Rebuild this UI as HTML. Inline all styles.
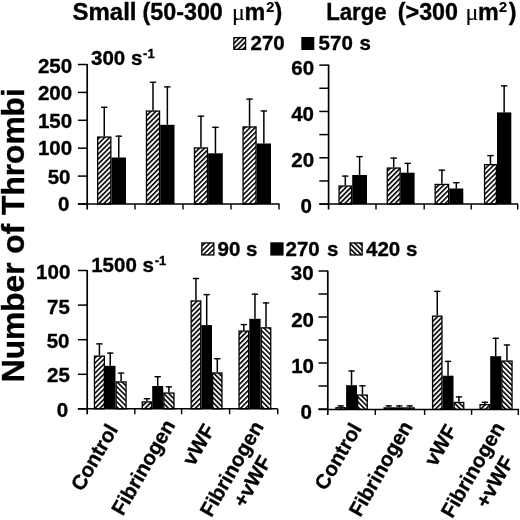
<!DOCTYPE html>
<html><head><meta charset="utf-8"><style>
html,body{margin:0;padding:0;background:#fff;width:520px;height:520px;overflow:hidden}
svg{display:block}
text{font-family:"Liberation Sans", sans-serif;font-weight:bold;fill:#000;stroke:#000;stroke-width:0.35px}
svg{will-change:transform}
</style></head><body>
<svg width="520" height="520" viewBox="0 0 520 520">
<defs>
<pattern id="fw" patternUnits="userSpaceOnUse" width="3.55" height="10" patternTransform="rotate(45)">
<rect x="0" y="0" width="1.6" height="10" fill="#000"/></pattern>
<pattern id="bk" patternUnits="userSpaceOnUse" width="3.55" height="10" patternTransform="rotate(-45)">
<rect x="0" y="0" width="1.6" height="10" fill="#000"/></pattern>
</defs>
<rect width="520" height="520" fill="#fff"/>

<line x1="87.2" y1="64.0" x2="87.2" y2="209.5" stroke="#000" stroke-width="1.7"/>
<line x1="77.9" y1="204.0" x2="279.5" y2="204.0" stroke="#000" stroke-width="1.5"/>
<line x1="77.9" y1="64.50" x2="87.2" y2="64.50" stroke="#000" stroke-width="1.5"/>
<line x1="77.9" y1="92.40" x2="87.2" y2="92.40" stroke="#000" stroke-width="1.5"/>
<line x1="77.9" y1="120.30" x2="87.2" y2="120.30" stroke="#000" stroke-width="1.5"/>
<line x1="77.9" y1="148.20" x2="87.2" y2="148.20" stroke="#000" stroke-width="1.5"/>
<line x1="77.9" y1="176.10" x2="87.2" y2="176.10" stroke="#000" stroke-width="1.5"/>
<line x1="77.9" y1="204.00" x2="87.2" y2="204.00" stroke="#000" stroke-width="1.5"/>
<text x="72.20" y="73.10" font-size="20.5" text-anchor="end">250</text>
<text x="72.20" y="100.20" font-size="20.5" text-anchor="end">200</text>
<text x="72.20" y="127.70" font-size="20.5" text-anchor="end">150</text>
<text x="72.20" y="155.20" font-size="20.5" text-anchor="end">100</text>
<text x="70.50" y="183.60" font-size="20.5" text-anchor="end">50</text>
<text x="69.50" y="210.80" font-size="20.5" text-anchor="end">0</text>
<line x1="135.00" y1="204.0" x2="135.00" y2="209.5" stroke="#000" stroke-width="1.4"/>
<line x1="183.00" y1="204.0" x2="183.00" y2="209.5" stroke="#000" stroke-width="1.4"/>
<line x1="231.00" y1="204.0" x2="231.00" y2="209.5" stroke="#000" stroke-width="1.4"/>
<line x1="279.00" y1="204.0" x2="279.00" y2="209.5" stroke="#000" stroke-width="1.4"/>
<rect x="97.65" y="137.05" width="13.20" height="66.95" fill="url(#fw)" stroke="#000" stroke-width="1.3"/>
<rect x="111.50" y="157.50" width="14.50" height="46.50" fill="#000"/>
<line x1="104.25" y1="136.40" x2="104.25" y2="106.70" stroke="#000" stroke-width="1.5"/>
<line x1="101.05" y1="107.30" x2="107.45" y2="107.30" stroke="#000" stroke-width="1.4"/>
<line x1="118.75" y1="157.50" x2="118.75" y2="135.60" stroke="#000" stroke-width="1.5"/>
<line x1="115.55" y1="136.20" x2="121.95" y2="136.20" stroke="#000" stroke-width="1.4"/>
<rect x="146.45" y="111.05" width="13.10" height="92.95" fill="url(#fw)" stroke="#000" stroke-width="1.3"/>
<rect x="160.20" y="124.80" width="14.30" height="79.20" fill="#000"/>
<line x1="153.00" y1="110.40" x2="153.00" y2="81.70" stroke="#000" stroke-width="1.5"/>
<line x1="149.80" y1="82.30" x2="156.20" y2="82.30" stroke="#000" stroke-width="1.4"/>
<line x1="167.35" y1="124.80" x2="167.35" y2="86.30" stroke="#000" stroke-width="1.5"/>
<line x1="164.15" y1="86.90" x2="170.55" y2="86.90" stroke="#000" stroke-width="1.4"/>
<rect x="194.45" y="147.95" width="13.00" height="56.05" fill="url(#fw)" stroke="#000" stroke-width="1.3"/>
<rect x="208.10" y="153.30" width="14.70" height="50.70" fill="#000"/>
<line x1="200.95" y1="147.30" x2="200.95" y2="115.60" stroke="#000" stroke-width="1.5"/>
<line x1="197.75" y1="116.20" x2="204.15" y2="116.20" stroke="#000" stroke-width="1.4"/>
<line x1="215.45" y1="153.30" x2="215.45" y2="126.70" stroke="#000" stroke-width="1.5"/>
<line x1="212.25" y1="127.30" x2="218.65" y2="127.30" stroke="#000" stroke-width="1.4"/>
<rect x="243.05" y="126.95" width="13.00" height="77.05" fill="url(#fw)" stroke="#000" stroke-width="1.3"/>
<rect x="256.70" y="143.50" width="14.30" height="60.50" fill="#000"/>
<line x1="249.55" y1="126.30" x2="249.55" y2="98.50" stroke="#000" stroke-width="1.5"/>
<line x1="246.35" y1="99.10" x2="252.75" y2="99.10" stroke="#000" stroke-width="1.4"/>
<line x1="263.85" y1="143.50" x2="263.85" y2="110.40" stroke="#000" stroke-width="1.5"/>
<line x1="260.65" y1="111.00" x2="267.05" y2="111.00" stroke="#000" stroke-width="1.4"/>
<line x1="328.6" y1="64.6" x2="328.6" y2="209.5" stroke="#000" stroke-width="1.7"/>
<line x1="319.3" y1="204.0" x2="518.0" y2="204.0" stroke="#000" stroke-width="1.5"/>
<line x1="319.3" y1="65.10" x2="328.6" y2="65.10" stroke="#000" stroke-width="1.5"/>
<line x1="319.3" y1="88.27" x2="328.6" y2="88.27" stroke="#000" stroke-width="1.5"/>
<line x1="319.3" y1="111.44" x2="328.6" y2="111.44" stroke="#000" stroke-width="1.5"/>
<line x1="319.3" y1="134.61" x2="328.6" y2="134.61" stroke="#000" stroke-width="1.5"/>
<line x1="319.3" y1="157.78" x2="328.6" y2="157.78" stroke="#000" stroke-width="1.5"/>
<line x1="319.3" y1="180.95" x2="328.6" y2="180.95" stroke="#000" stroke-width="1.5"/>
<line x1="319.3" y1="204.12" x2="328.6" y2="204.12" stroke="#000" stroke-width="1.5"/>
<text x="314.10" y="74.50" font-size="20.5" text-anchor="end">60</text>
<text x="314.00" y="121.30" font-size="20.5" text-anchor="end">40</text>
<text x="314.10" y="167.10" font-size="20.5" text-anchor="end">20</text>
<text x="312.00" y="213.30" font-size="20.5" text-anchor="end">0</text>
<line x1="376.00" y1="204.0" x2="376.00" y2="209.5" stroke="#000" stroke-width="1.4"/>
<line x1="424.20" y1="204.0" x2="424.20" y2="209.5" stroke="#000" stroke-width="1.4"/>
<line x1="471.20" y1="204.0" x2="471.20" y2="209.5" stroke="#000" stroke-width="1.4"/>
<line x1="517.70" y1="204.0" x2="517.70" y2="209.5" stroke="#000" stroke-width="1.4"/>
<rect x="339.05" y="186.05" width="12.50" height="17.95" fill="url(#fw)" stroke="#000" stroke-width="1.3"/>
<rect x="352.20" y="175.00" width="14.80" height="29.00" fill="#000"/>
<line x1="345.30" y1="185.40" x2="345.30" y2="175.50" stroke="#000" stroke-width="1.5"/>
<line x1="342.10" y1="176.10" x2="348.50" y2="176.10" stroke="#000" stroke-width="1.4"/>
<line x1="359.60" y1="175.00" x2="359.60" y2="156.00" stroke="#000" stroke-width="1.5"/>
<line x1="356.40" y1="156.60" x2="362.80" y2="156.60" stroke="#000" stroke-width="1.4"/>
<rect x="387.25" y="168.05" width="12.90" height="35.95" fill="url(#fw)" stroke="#000" stroke-width="1.3"/>
<rect x="400.80" y="172.70" width="13.80" height="31.30" fill="#000"/>
<line x1="393.70" y1="167.40" x2="393.70" y2="157.50" stroke="#000" stroke-width="1.5"/>
<line x1="390.50" y1="158.10" x2="396.90" y2="158.10" stroke="#000" stroke-width="1.4"/>
<line x1="407.70" y1="172.70" x2="407.70" y2="162.80" stroke="#000" stroke-width="1.5"/>
<line x1="404.50" y1="163.40" x2="410.90" y2="163.40" stroke="#000" stroke-width="1.4"/>
<rect x="435.15" y="184.45" width="13.50" height="19.55" fill="url(#fw)" stroke="#000" stroke-width="1.3"/>
<rect x="449.30" y="188.50" width="14.00" height="15.50" fill="#000"/>
<line x1="441.90" y1="183.80" x2="441.90" y2="169.60" stroke="#000" stroke-width="1.5"/>
<line x1="438.70" y1="170.20" x2="445.10" y2="170.20" stroke="#000" stroke-width="1.4"/>
<line x1="456.30" y1="188.50" x2="456.30" y2="182.10" stroke="#000" stroke-width="1.5"/>
<line x1="453.10" y1="182.70" x2="459.50" y2="182.70" stroke="#000" stroke-width="1.4"/>
<rect x="484.55" y="164.65" width="11.80" height="39.35" fill="url(#fw)" stroke="#000" stroke-width="1.3"/>
<rect x="497.00" y="112.40" width="14.30" height="91.60" fill="#000"/>
<line x1="490.45" y1="164.00" x2="490.45" y2="155.00" stroke="#000" stroke-width="1.5"/>
<line x1="487.25" y1="155.60" x2="493.65" y2="155.60" stroke="#000" stroke-width="1.4"/>
<line x1="504.15" y1="112.40" x2="504.15" y2="85.30" stroke="#000" stroke-width="1.5"/>
<line x1="500.95" y1="85.90" x2="507.35" y2="85.90" stroke="#000" stroke-width="1.4"/>
<line x1="87.2" y1="270.0" x2="87.2" y2="414.3" stroke="#000" stroke-width="1.7"/>
<line x1="77.9" y1="408.8" x2="277.7" y2="408.8" stroke="#000" stroke-width="1.5"/>
<line x1="77.9" y1="270.50" x2="87.2" y2="270.50" stroke="#000" stroke-width="1.5"/>
<line x1="77.9" y1="305.10" x2="87.2" y2="305.10" stroke="#000" stroke-width="1.5"/>
<line x1="77.9" y1="339.70" x2="87.2" y2="339.70" stroke="#000" stroke-width="1.5"/>
<line x1="77.9" y1="374.30" x2="87.2" y2="374.30" stroke="#000" stroke-width="1.5"/>
<line x1="77.9" y1="408.90" x2="87.2" y2="408.90" stroke="#000" stroke-width="1.5"/>
<text x="70.30" y="279.30" font-size="20.5" text-anchor="end">100</text>
<text x="69.90" y="313.50" font-size="20.5" text-anchor="end">75</text>
<text x="69.50" y="348.00" font-size="20.5" text-anchor="end">50</text>
<text x="69.90" y="382.40" font-size="20.5" text-anchor="end">25</text>
<text x="68.10" y="417.40" font-size="20.5" text-anchor="end">0</text>
<line x1="134.80" y1="408.8" x2="134.80" y2="414.3" stroke="#000" stroke-width="1.4"/>
<line x1="181.60" y1="408.8" x2="181.60" y2="414.3" stroke="#000" stroke-width="1.4"/>
<line x1="229.60" y1="408.8" x2="229.60" y2="414.3" stroke="#000" stroke-width="1.4"/>
<line x1="277.70" y1="408.8" x2="277.70" y2="414.3" stroke="#000" stroke-width="1.4"/>
<rect x="94.45" y="356.15" width="9.90" height="52.65" fill="url(#fw)" stroke="#000" stroke-width="1.3"/>
<rect x="105.00" y="365.80" width="10.50" height="43.00" fill="#000"/>
<rect x="116.15" y="381.95" width="9.90" height="26.85" fill="url(#bk)" stroke="#000" stroke-width="1.3"/>
<line x1="99.40" y1="355.50" x2="99.40" y2="343.30" stroke="#000" stroke-width="1.5"/>
<line x1="96.25" y1="343.90" x2="102.55" y2="343.90" stroke="#000" stroke-width="1.4"/>
<line x1="110.25" y1="365.80" x2="110.25" y2="352.50" stroke="#000" stroke-width="1.5"/>
<line x1="107.10" y1="353.10" x2="113.40" y2="353.10" stroke="#000" stroke-width="1.4"/>
<line x1="121.10" y1="381.30" x2="121.10" y2="372.50" stroke="#000" stroke-width="1.5"/>
<line x1="117.95" y1="373.10" x2="124.25" y2="373.10" stroke="#000" stroke-width="1.4"/>
<rect x="142.25" y="401.95" width="9.30" height="6.85" fill="url(#fw)" stroke="#000" stroke-width="1.3"/>
<rect x="152.20" y="386.00" width="11.00" height="22.80" fill="#000"/>
<rect x="163.85" y="393.05" width="10.10" height="15.75" fill="url(#bk)" stroke="#000" stroke-width="1.3"/>
<line x1="146.90" y1="401.30" x2="146.90" y2="398.10" stroke="#000" stroke-width="1.5"/>
<line x1="143.75" y1="398.70" x2="150.05" y2="398.70" stroke="#000" stroke-width="1.4"/>
<line x1="157.70" y1="386.00" x2="157.70" y2="376.10" stroke="#000" stroke-width="1.5"/>
<line x1="154.55" y1="376.70" x2="160.85" y2="376.70" stroke="#000" stroke-width="1.4"/>
<line x1="168.90" y1="392.40" x2="168.90" y2="386.30" stroke="#000" stroke-width="1.5"/>
<line x1="165.75" y1="386.90" x2="172.05" y2="386.90" stroke="#000" stroke-width="1.4"/>
<rect x="191.15" y="300.95" width="9.60" height="107.85" fill="url(#fw)" stroke="#000" stroke-width="1.3"/>
<rect x="201.40" y="325.10" width="10.60" height="83.70" fill="#000"/>
<rect x="212.65" y="372.95" width="9.30" height="35.85" fill="url(#bk)" stroke="#000" stroke-width="1.3"/>
<line x1="195.95" y1="300.30" x2="195.95" y2="277.90" stroke="#000" stroke-width="1.5"/>
<line x1="192.80" y1="278.50" x2="199.10" y2="278.50" stroke="#000" stroke-width="1.4"/>
<line x1="206.70" y1="325.10" x2="206.70" y2="294.00" stroke="#000" stroke-width="1.5"/>
<line x1="203.55" y1="294.60" x2="209.85" y2="294.60" stroke="#000" stroke-width="1.4"/>
<line x1="217.30" y1="372.30" x2="217.30" y2="358.10" stroke="#000" stroke-width="1.5"/>
<line x1="214.15" y1="358.70" x2="220.45" y2="358.70" stroke="#000" stroke-width="1.4"/>
<rect x="239.05" y="331.05" width="9.60" height="77.75" fill="url(#fw)" stroke="#000" stroke-width="1.3"/>
<rect x="249.30" y="318.80" width="11.30" height="90.00" fill="#000"/>
<rect x="261.25" y="327.85" width="9.50" height="80.95" fill="url(#bk)" stroke="#000" stroke-width="1.3"/>
<line x1="243.85" y1="330.40" x2="243.85" y2="324.00" stroke="#000" stroke-width="1.5"/>
<line x1="240.70" y1="324.60" x2="247.00" y2="324.60" stroke="#000" stroke-width="1.4"/>
<line x1="254.95" y1="318.80" x2="254.95" y2="293.60" stroke="#000" stroke-width="1.5"/>
<line x1="251.80" y1="294.20" x2="258.10" y2="294.20" stroke="#000" stroke-width="1.4"/>
<line x1="266.00" y1="327.20" x2="266.00" y2="302.30" stroke="#000" stroke-width="1.5"/>
<line x1="262.85" y1="302.90" x2="269.15" y2="302.90" stroke="#000" stroke-width="1.4"/>
<line x1="327.8" y1="270.6" x2="327.8" y2="414.90000000000003" stroke="#000" stroke-width="1.7"/>
<line x1="318.5" y1="409.40000000000003" x2="519.0" y2="409.40000000000003" stroke="#000" stroke-width="1.5"/>
<line x1="318.5" y1="271.00" x2="327.8" y2="271.00" stroke="#000" stroke-width="1.5"/>
<line x1="318.5" y1="294.00" x2="327.8" y2="294.00" stroke="#000" stroke-width="1.5"/>
<line x1="318.5" y1="317.00" x2="327.8" y2="317.00" stroke="#000" stroke-width="1.5"/>
<line x1="318.5" y1="340.00" x2="327.8" y2="340.00" stroke="#000" stroke-width="1.5"/>
<line x1="318.5" y1="363.00" x2="327.8" y2="363.00" stroke="#000" stroke-width="1.5"/>
<line x1="318.5" y1="386.00" x2="327.8" y2="386.00" stroke="#000" stroke-width="1.5"/>
<line x1="318.5" y1="409.00" x2="327.8" y2="409.00" stroke="#000" stroke-width="1.5"/>
<text x="313.60" y="280.00" font-size="20.5" text-anchor="end">30</text>
<text x="314.00" y="327.00" font-size="20.5" text-anchor="end">20</text>
<text x="314.00" y="373.00" font-size="20.5" text-anchor="end">10</text>
<text x="312.00" y="418.50" font-size="20.5" text-anchor="end">0</text>
<line x1="375.30" y1="409.40000000000003" x2="375.30" y2="414.90000000000003" stroke="#000" stroke-width="1.4"/>
<line x1="424.60" y1="409.40000000000003" x2="424.60" y2="414.90000000000003" stroke="#000" stroke-width="1.4"/>
<line x1="471.60" y1="409.40000000000003" x2="471.60" y2="414.90000000000003" stroke="#000" stroke-width="1.4"/>
<line x1="518.30" y1="409.40000000000003" x2="518.30" y2="414.90000000000003" stroke="#000" stroke-width="1.4"/>
<rect x="335.95" y="407.75" width="9.50" height="1.65" fill="url(#fw)" stroke="#000" stroke-width="1.3"/>
<rect x="346.10" y="385.20" width="10.90" height="24.20" fill="#000"/>
<rect x="357.65" y="395.05" width="9.60" height="14.35" fill="url(#bk)" stroke="#000" stroke-width="1.3"/>
<line x1="340.70" y1="407.10" x2="340.70" y2="405.30" stroke="#000" stroke-width="1.5"/>
<line x1="337.55" y1="405.90" x2="343.85" y2="405.90" stroke="#000" stroke-width="1.4"/>
<line x1="351.55" y1="385.20" x2="351.55" y2="370.40" stroke="#000" stroke-width="1.5"/>
<line x1="348.40" y1="371.00" x2="354.70" y2="371.00" stroke="#000" stroke-width="1.4"/>
<line x1="362.45" y1="394.40" x2="362.45" y2="385.20" stroke="#000" stroke-width="1.5"/>
<line x1="359.30" y1="385.80" x2="365.60" y2="385.80" stroke="#000" stroke-width="1.4"/>
<rect x="384.05" y="407.95" width="9.30" height="1.45" fill="url(#fw)" stroke="#000" stroke-width="1.3"/>
<rect x="394.00" y="407.30" width="10.50" height="2.10" fill="#000"/>
<rect x="405.15" y="407.95" width="9.20" height="1.45" fill="url(#bk)" stroke="#000" stroke-width="1.3"/>
<line x1="388.70" y1="407.30" x2="388.70" y2="405.30" stroke="#000" stroke-width="1.5"/>
<line x1="385.55" y1="405.90" x2="391.85" y2="405.90" stroke="#000" stroke-width="1.4"/>
<line x1="399.25" y1="407.30" x2="399.25" y2="405.30" stroke="#000" stroke-width="1.5"/>
<line x1="396.10" y1="405.90" x2="402.40" y2="405.90" stroke="#000" stroke-width="1.4"/>
<line x1="409.75" y1="407.30" x2="409.75" y2="405.30" stroke="#000" stroke-width="1.5"/>
<line x1="406.60" y1="405.90" x2="412.90" y2="405.90" stroke="#000" stroke-width="1.4"/>
<rect x="432.55" y="316.15" width="9.40" height="93.25" fill="url(#fw)" stroke="#000" stroke-width="1.3"/>
<rect x="442.60" y="375.70" width="10.90" height="33.70" fill="#000"/>
<rect x="454.15" y="402.45" width="9.60" height="6.95" fill="url(#bk)" stroke="#000" stroke-width="1.3"/>
<line x1="437.25" y1="315.50" x2="437.25" y2="290.80" stroke="#000" stroke-width="1.5"/>
<line x1="434.10" y1="291.40" x2="440.40" y2="291.40" stroke="#000" stroke-width="1.4"/>
<line x1="448.05" y1="375.70" x2="448.05" y2="360.80" stroke="#000" stroke-width="1.5"/>
<line x1="444.90" y1="361.40" x2="451.20" y2="361.40" stroke="#000" stroke-width="1.4"/>
<line x1="458.95" y1="401.80" x2="458.95" y2="396.30" stroke="#000" stroke-width="1.5"/>
<line x1="455.80" y1="396.90" x2="462.10" y2="396.90" stroke="#000" stroke-width="1.4"/>
<rect x="480.05" y="404.65" width="9.50" height="4.75" fill="url(#fw)" stroke="#000" stroke-width="1.3"/>
<rect x="490.20" y="356.20" width="11.00" height="53.20" fill="#000"/>
<rect x="501.85" y="361.05" width="10.20" height="48.35" fill="url(#bk)" stroke="#000" stroke-width="1.3"/>
<line x1="484.80" y1="404.00" x2="484.80" y2="401.70" stroke="#000" stroke-width="1.5"/>
<line x1="481.65" y1="402.30" x2="487.95" y2="402.30" stroke="#000" stroke-width="1.4"/>
<line x1="495.70" y1="356.20" x2="495.70" y2="337.70" stroke="#000" stroke-width="1.5"/>
<line x1="492.55" y1="338.30" x2="498.85" y2="338.30" stroke="#000" stroke-width="1.4"/>
<line x1="506.95" y1="360.40" x2="506.95" y2="344.40" stroke="#000" stroke-width="1.5"/>
<line x1="503.80" y1="345.00" x2="510.10" y2="345.00" stroke="#000" stroke-width="1.4"/>
<text y="19.8" font-size="23.3"><tspan x="72.5" textLength="64" lengthAdjust="spacingAndGlyphs">Small</tspan><tspan x="142.5">(50-300</tspan></text>
<text x="232.0" y="19.8" font-size="24" style="font-family:'Liberation Serif',serif;font-weight:normal;stroke-width:0.15px">μ</text>
<text x="244.5" y="19.8" font-size="23.3">m</text>
<text x="266.3" y="12.3" font-size="14.5" style="stroke-width:0.2px">2</text>
<text x="274.5" y="19.8" font-size="23.3">)</text>
<text y="19.8" font-size="23.3"><tspan x="326.2" textLength="60.5" lengthAdjust="spacingAndGlyphs">Large</tspan><tspan x="397.8">(&gt;300</tspan></text>
<text x="465.4" y="19.8" font-size="24" style="font-family:'Liberation Serif',serif;font-weight:normal;stroke-width:0.15px">μ</text>
<text x="478.1" y="19.8" font-size="23.3">m</text>
<text x="499.0" y="12.3" font-size="14.5" style="stroke-width:0.2px">2</text>
<text x="508.7" y="19.8" font-size="23.3">)</text>
<text x="91" y="65" font-size="20.5">300 s<tspan font-size="13" dx="0.8" dy="-7.2">-1</tspan></text>
<text x="91.2" y="272" font-size="20.5">1500 s<tspan font-size="13" dx="0.8" dy="-7.2">-1</tspan></text>
<rect x="233.85" y="37.65" width="11.7" height="11.7" fill="url(#fw)" stroke="#000" stroke-width="1.3"/>
<text x="250.5" y="49.5" font-size="20.5">270</text>
<rect x="301.3" y="37.0" width="13" height="13" fill="#000"/>
<text x="318.6" y="50.2" font-size="20.5" word-spacing="1">570 s</text>
<rect x="201.85" y="242.95000000000002" width="12.0" height="12.0" fill="url(#fw)" stroke="#000" stroke-width="1.3"/>
<text x="217.5" y="255.8" font-size="20.5">90 s</text>
<rect x="270.3" y="242.3" width="13.3" height="13.3" fill="#000"/>
<text x="285.5" y="255.8" font-size="20.5" word-spacing="1.5">270 s</text>
<rect x="350.15" y="242.95000000000002" width="12.0" height="12.0" fill="url(#bk)" stroke="#000" stroke-width="1.3"/>
<text x="366.0" y="255.8" font-size="20.5">420 s</text>
<text transform="translate(24.3,382.2) rotate(-90)" font-size="31.7">Number of Thrombi</text>
<text transform="translate(118.6,429.2) rotate(-60)" font-size="20.5" text-anchor="end">Control</text>
<text transform="translate(175.8,425.0) rotate(-60)" font-size="20.5" text-anchor="end">Fibrinogen</text>
<text transform="translate(215.5,429.5) rotate(-60)" font-size="20.5" text-anchor="end">vWF</text>
<text transform="translate(264.2,426.5) rotate(-60)" font-size="20.5" text-anchor="end">Fibrinogen</text>
<text transform="translate(272.0,461.0) rotate(-60)" font-size="20.5" text-anchor="end">+vWF</text>
<text transform="translate(362.3,428.3) rotate(-60)" font-size="20.5" text-anchor="end">Control</text>
<text transform="translate(413.2,426.3) rotate(-60)" font-size="20.5" text-anchor="end">Fibrinogen</text>
<text transform="translate(457.5,430.0) rotate(-60)" font-size="20.5" text-anchor="end">vWF</text>
<text transform="translate(505.2,427.5) rotate(-60)" font-size="20.5" text-anchor="end">Fibrinogen</text>
<text transform="translate(514.5,461.5) rotate(-60)" font-size="20.5" text-anchor="end">+vWF</text>
</svg></body></html>
